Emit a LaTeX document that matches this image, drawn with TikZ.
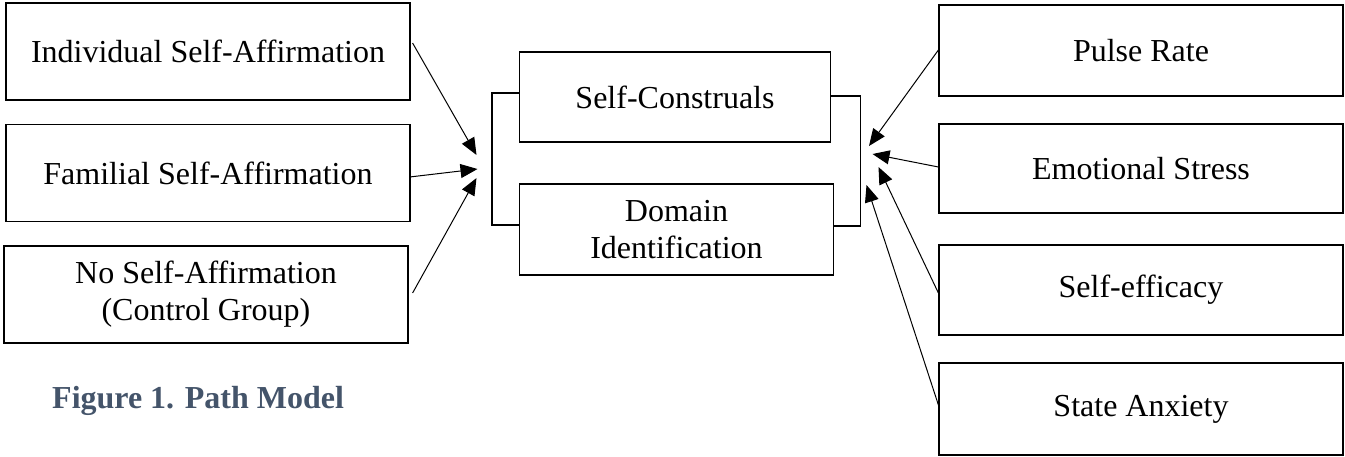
\documentclass[tikz,border=0pt]{standalone}
\usepackage{fontspec}
\setmainfont{Liberation Serif}
\usetikzlibrary{arrows.meta,calc}
\definecolor{capblue}{HTML}{44546A}
\begin{document}
\begin{tikzpicture}[x=1pt,y=-1pt,
  box/.style={draw, line width=1.2pt, align=center, inner sep=0pt,
    font=\fontsize{32}{37}\selectfont},
  lbox/.style={box, minimum width=404pt, minimum height=97pt},
  mbox/.style={box, minimum width=311pt, minimum height=90pt},
  rbox/.style={box, minimum width=404pt, minimum height=90pt},
  path/.style={line width=1pt, -{Triangle[length=17pt,width=14pt]}},
  brace/.style={line width=1.2pt}]
\useasboundingbox (0,0) rectangle (1345,456);

% predictors (left)
\node[lbox] (l1) at (208,51.5) {Individual Self-Affirmation};
\node[lbox] (l2) at (208,173) {Familial Self-Affirmation};
\node[lbox] (l3) at (206,294.5) {No Self-Affirmation\\(Control Group)};

% mediators (centre)
\node[mbox] (m1) at (675,97) {Self-Construals};
\node[mbox, minimum width=314pt, minimum height=91pt] (m2) at (676.5,229.5) {Domain\\Identification};

% outcomes (right)
\node[rbox, minimum height=91pt] (r1) at (1141,50.5) {Pulse Rate};
\node[rbox, minimum height=89pt] (r2) at (1141,168.5) {Emotional Stress};
\node[rbox] (r3) at (1141,290) {Self-efficacy};
\node[rbox, minimum height=92pt] (r4) at (1141,409) {State Anxiety};

% brackets grouping the mediators
\draw[brace] ([yshift=4pt]m1.west) -- ++(-27,0) |- ([yshift=4.5pt]m2.west);
\draw[brace] ([yshift=1pt]m1.east) -- ++(29,0) |- ([yshift=3.5pt]m2.east);

% arrow tips
\coordinate (tl1) at (476.5,155);
\coordinate (tl2) at (477.5,169);
\coordinate (tl3) at (476.5,178);
\coordinate (tr1) at (869,146);
\coordinate (tr2) at (872.5,154);
\coordinate (tr3) at (878.5,167);
\coordinate (tr4) at (866.5,185);

\draw[path] ([shift={(2pt,8.5pt)}]l1.east) -- (tl1);
\draw[path] ([shift={(-1pt,-4pt)}]l2.east) -- (tl2);
\draw[path] ([shift={(4pt,1.5pt)}]l3.east) -- (tl3);
\draw[path] ([yshift=0.5pt]r1.west) -- (tr1);
\draw[path] ([yshift=1.5pt]r2.west) -- (tr2);
\draw[path] ([yshift=-3pt]r3.west) -- (tr3);
\draw[path] ([xshift=1pt,yshift=1pt]r4.west) -- (tr4);

% caption
\node[anchor=base west, inner sep=0pt, text=capblue,
  font=\fontsize{32}{37}\selectfont\bfseries] (cap) at (52,408) {Figure 1. Path Model};
\end{tikzpicture}
\end{document}
